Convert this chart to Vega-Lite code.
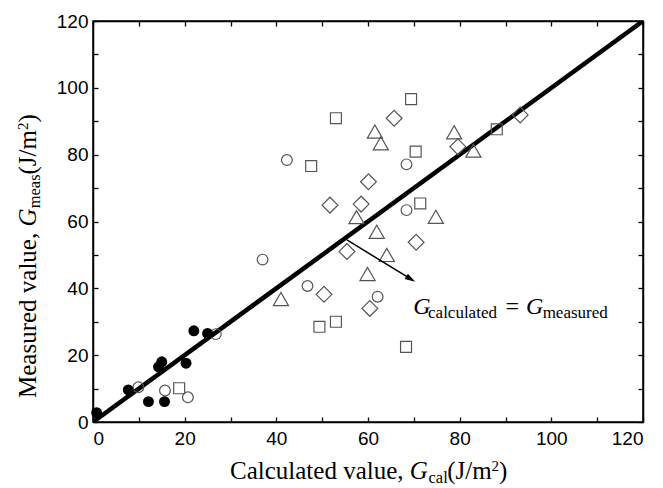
{
  "$schema": "https://vega.github.io/schema/vega-lite/v6.json",
  "width": 550,
  "height": 401,
  "autosize": "none",
  "padding": {"left": 93, "top": 21, "right": 20, "bottom": 66},
  "background": "white",
  "config": {
    "view": {"stroke": "black", "strokeWidth": 1.5},
    "axis": {
      "grid": false,
      "domainColor": "black",
      "domainWidth": 1.5,
      "tickColor": "black",
      "tickWidth": 1.3,
      "tickSize": -5,
      "labelFont": "Liberation Sans",
      "labelFontSize": 19,
      "labelColor": "black",
      "titleFontSize": 0
    }
  },
  "datasets": {
    "points": [
      {"x": 0.8, "y": 2.8, "type": "filled"},
      {"x": 7.7, "y": 9.6, "type": "filled"},
      {"x": 12.1, "y": 6.1, "type": "filled"},
      {"x": 15.6, "y": 6.1, "type": "filled"},
      {"x": 14.3, "y": 16.5, "type": "filled"},
      {"x": 15.0, "y": 18.0, "type": "filled"},
      {"x": 20.3, "y": 17.6, "type": "filled"},
      {"x": 22.0, "y": 27.3, "type": "filled"},
      {"x": 25.0, "y": 26.5, "type": "filled"},
      {"x": 9.9, "y": 10.4, "type": "circle"},
      {"x": 15.7, "y": 9.4, "type": "circle"},
      {"x": 20.7, "y": 7.4, "type": "circle"},
      {"x": 26.8, "y": 26.3, "type": "circle"},
      {"x": 37.0, "y": 48.6, "type": "circle"},
      {"x": 42.3, "y": 78.4, "type": "circle"},
      {"x": 46.8, "y": 40.7, "type": "circle"},
      {"x": 62.1, "y": 37.5, "type": "circle"},
      {"x": 68.4, "y": 77.1, "type": "circle"},
      {"x": 68.4, "y": 63.4, "type": "circle"},
      {"x": 18.8, "y": 10.1, "type": "square"},
      {"x": 47.6, "y": 76.6, "type": "square"},
      {"x": 49.4, "y": 28.5, "type": "square"},
      {"x": 53.0, "y": 30.0, "type": "square"},
      {"x": 53.0, "y": 90.9, "type": "square"},
      {"x": 68.3, "y": 22.5, "type": "square"},
      {"x": 69.4, "y": 96.6, "type": "square"},
      {"x": 70.4, "y": 80.9, "type": "square"},
      {"x": 71.4, "y": 65.4, "type": "square"},
      {"x": 88.1, "y": 87.6, "type": "square"},
      {"x": 50.4, "y": 38.2, "type": "diamond"},
      {"x": 51.7, "y": 64.9, "type": "diamond"},
      {"x": 55.4, "y": 51.0, "type": "diamond"},
      {"x": 58.5, "y": 65.2, "type": "diamond"},
      {"x": 60.1, "y": 71.9, "type": "diamond"},
      {"x": 60.4, "y": 34.0, "type": "diamond"},
      {"x": 65.7, "y": 90.9, "type": "diamond"},
      {"x": 70.5, "y": 53.8, "type": "diamond"},
      {"x": 79.6, "y": 82.4, "type": "diamond"},
      {"x": 93.2, "y": 91.9, "type": "diamond"},
      {"x": 41.0, "y": 36.8, "type": "triangle"},
      {"x": 57.5, "y": 61.3, "type": "triangle"},
      {"x": 59.9, "y": 44.3, "type": "triangle"},
      {"x": 61.5, "y": 86.9, "type": "triangle"},
      {"x": 62.8, "y": 83.4, "type": "triangle"},
      {"x": 61.9, "y": 56.9, "type": "triangle"},
      {"x": 64.1, "y": 50.0, "type": "triangle"},
      {"x": 74.8, "y": 61.4, "type": "triangle"},
      {"x": 78.8, "y": 86.7, "type": "triangle"},
      {"x": 83.0, "y": 81.2, "type": "triangle"}
    ],
    "fit": [{"x": 0, "y": 0}, {"x": 120, "y": 120}],
    "one": [{}]
  },
  "resolve": {"axis": {"x": "independent", "y": "independent"}},
  "layer": [
    {
      "data": {"name": "fit"},
      "mark": {"type": "line", "color": "black", "strokeWidth": 4.5, "clip": true},
      "encoding": {
        "x": {"field": "x", "type": "quantitative", "scale": {"domain": [0, 120], "nice": false},
          "axis": {"orient": "bottom", "values": [0,10,20,30,40,50,60,70,80,90,100,110,120],
            "labelExpr": "datum.value % 20 === 0 ? datum.label : ''", "labelPadding": 12, "title": null}},
        "y": {"field": "y", "type": "quantitative", "scale": {"domain": [0, 120], "nice": false},
          "axis": {"orient": "left", "values": [0,10,20,30,40,50,60,70,80,90,100,110,120],
            "labelExpr": "datum.value % 20 === 0 ? datum.label : ''", "labelPadding": 10, "title": null}}
      }
    },
    {
      "data": {"name": "points"},
      "transform": [{"filter": "datum.type === 'circle'"}],
      "mark": {"type": "point", "shape": "circle", "filled": false, "color": "#555555", "strokeWidth": 1.2, "opacity": 1, "size": 115},
      "encoding": {
        "x": {"field": "x", "type": "quantitative", "axis": null},
        "y": {"field": "y", "type": "quantitative", "axis": null}
      }
    },
    {
      "data": {"name": "points"},
      "transform": [{"filter": "datum.type === 'square'"}],
      "mark": {"type": "point", "shape": "square", "filled": false, "color": "#555555", "strokeWidth": 1.2, "opacity": 1, "size": 120},
      "encoding": {
        "x": {"field": "x", "type": "quantitative", "axis": null},
        "y": {"field": "y", "type": "quantitative", "axis": null}
      }
    },
    {
      "data": {"name": "points"},
      "transform": [{"filter": "datum.type === 'diamond'"}],
      "mark": {"type": "point", "shape": "diamond", "filled": false, "color": "#555555", "strokeWidth": 1.2, "opacity": 1, "size": 250},
      "encoding": {
        "x": {"field": "x", "type": "quantitative", "axis": null},
        "y": {"field": "y", "type": "quantitative", "axis": null}
      }
    },
    {
      "data": {"name": "points"},
      "transform": [{"filter": "datum.type === 'triangle'"}],
      "mark": {"type": "point", "shape": "triangle-up", "filled": false, "color": "#555555", "strokeWidth": 1.2, "opacity": 1, "size": 230},
      "encoding": {
        "x": {"field": "x", "type": "quantitative", "axis": null},
        "y": {"field": "y", "type": "quantitative", "axis": null}
      }
    },
    {
      "data": {"name": "points"},
      "transform": [{"filter": "datum.type === 'filled'"}],
      "mark": {"type": "point", "shape": "circle", "filled": true, "color": "black", "size": 120, "opacity": 1},
      "encoding": {
        "x": {"field": "x", "type": "quantitative",
          "axis": {"orient": "top", "values": [0,10,20,30,40,50,60,70,80,90,100,110,120], "labels": false, "title": null}},
        "y": {"field": "y", "type": "quantitative",
          "axis": {"orient": "right", "values": [0,10,20,30,40,50,60,70,80,90,100,110,120], "labels": false, "title": null}}
      }
    },
    {
      "data": {"name": "one"},
      "mark": {"type": "rule", "color": "black", "strokeWidth": 1.5},
      "encoding": {
        "x": {"datum": 55.4, "type": "quantitative", "axis": null},
        "y": {"datum": 54.5, "type": "quantitative", "axis": null},
        "x2": {"datum": 69.3},
        "y2": {"datum": 42.8}
      }
    },
    {
      "data": {"name": "one"},
      "mark": {"type": "point", "shape": "M-1,-0.6L1,0L-1,0.6Z", "filled": true, "color": "black", "size": 110, "angle": 31.6, "opacity": 1},
      "encoding": {
        "x": {"datum": 69.32, "type": "quantitative", "axis": null},
        "y": {"datum": 42.77, "type": "quantitative", "axis": null}
      }
    },
    {"data": {"name": "one"}, "mark": {"type": "text", "text": "G", "font": "Liberation Serif", "fontStyle": "italic", "fontSize": 24, "align": "left", "baseline": "alphabetic", "color": "black"},
     "encoding": {"x": {"datum": 69.89, "type": "quantitative", "axis": null}, "y": {"datum": 32.32, "type": "quantitative", "axis": null}}},
    {"data": {"name": "one"}, "mark": {"type": "text", "text": "calculated", "font": "Liberation Serif", "fontSize": 17, "align": "left", "baseline": "alphabetic", "color": "black"},
     "encoding": {"x": {"datum": 73.1, "type": "quantitative", "axis": null}, "y": {"datum": 31.12, "type": "quantitative", "axis": null}}},
    {"data": {"name": "one"}, "mark": {"type": "text", "text": "=", "font": "Liberation Serif", "fontSize": 24, "align": "left", "baseline": "alphabetic", "color": "black"},
     "encoding": {"x": {"datum": 90.0, "type": "quantitative", "axis": null}, "y": {"datum": 32.32, "type": "quantitative", "axis": null}}},
    {"data": {"name": "one"}, "mark": {"type": "text", "text": "G", "font": "Liberation Serif", "fontStyle": "italic", "fontSize": 24, "align": "left", "baseline": "alphabetic", "color": "black"},
     "encoding": {"x": {"datum": 94.47, "type": "quantitative", "axis": null}, "y": {"datum": 32.32, "type": "quantitative", "axis": null}}},
    {"data": {"name": "one"}, "mark": {"type": "text", "text": "measured", "font": "Liberation Serif", "fontSize": 17, "align": "left", "baseline": "alphabetic", "color": "black"},
     "encoding": {"x": {"datum": 98.1, "type": "quantitative", "axis": null}, "y": {"datum": 31.12, "type": "quantitative", "axis": null}}},
    {"data": {"name": "one"}, "mark": {"type": "text", "text": "Calculated value, ", "font": "Liberation Serif", "fontSize": 25, "align": "left", "baseline": "alphabetic", "color": "black"},
     "encoding": {"x": {"datum": 29.89, "type": "quantitative", "axis": null}, "y": {"datum": -17.06, "type": "quantitative", "axis": null}}},
    {"data": {"name": "one"}, "mark": {"type": "text", "text": "G", "font": "Liberation Serif", "fontStyle": "italic", "fontSize": 25, "align": "left", "baseline": "alphabetic", "color": "black"},
     "encoding": {"x": {"datum": 69.12, "type": "quantitative", "axis": null}, "y": {"datum": -17.06, "type": "quantitative", "axis": null}}},
    {"data": {"name": "one"}, "mark": {"type": "text", "text": "cal", "font": "Liberation Serif", "fontSize": 16.5, "align": "left", "baseline": "alphabetic", "color": "black"},
     "encoding": {"x": {"datum": 73.2, "type": "quantitative", "axis": null}, "y": {"datum": -18.25, "type": "quantitative", "axis": null}}},
    {"data": {"name": "one"}, "mark": {"type": "text", "text": "(J/m", "font": "Liberation Serif", "fontSize": 25, "align": "left", "baseline": "alphabetic", "color": "black"},
     "encoding": {"x": {"datum": 77.3, "type": "quantitative", "axis": null}, "y": {"datum": -17.06, "type": "quantitative", "axis": null}}},
    {"data": {"name": "one"}, "mark": {"type": "text", "text": "2", "font": "Liberation Serif", "fontSize": 15, "align": "left", "baseline": "alphabetic", "color": "black"},
     "encoding": {"x": {"datum": 86.95, "type": "quantitative", "axis": null}, "y": {"datum": -14.57, "type": "quantitative", "axis": null}}},
    {"data": {"name": "one"}, "mark": {"type": "text", "text": ")", "font": "Liberation Serif", "fontSize": 25, "align": "left", "baseline": "alphabetic", "color": "black"},
     "encoding": {"x": {"datum": 88.58, "type": "quantitative", "axis": null}, "y": {"datum": -17.06, "type": "quantitative", "axis": null}}},
    {"data": {"name": "one"}, "mark": {"type": "text", "text": "Measured value, ", "font": "Liberation Serif", "fontSize": 25, "angle": 270, "align": "left", "baseline": "alphabetic", "color": "black"},
     "encoding": {"x": {"datum": -12.44, "type": "quantitative", "axis": null}, "y": {"datum": 7.18, "type": "quantitative", "axis": null}}},
    {"data": {"name": "one"}, "mark": {"type": "text", "text": "G", "font": "Liberation Serif", "fontStyle": "italic", "fontSize": 25, "angle": 270, "align": "left", "baseline": "alphabetic", "color": "black"},
     "encoding": {"x": {"datum": -12.44, "type": "quantitative", "axis": null}, "y": {"datum": 58.5, "type": "quantitative", "axis": null}}},
    {"data": {"name": "one"}, "mark": {"type": "text", "text": "meas", "font": "Liberation Serif", "fontSize": 16.5, "angle": 270, "align": "left", "baseline": "alphabetic", "color": "black"},
     "encoding": {"x": {"datum": -11.56, "type": "quantitative", "axis": null}, "y": {"datum": 63.95, "type": "quantitative", "axis": null}}},
    {"data": {"name": "one"}, "mark": {"type": "text", "text": "(J/m", "font": "Liberation Serif", "fontSize": 25, "angle": 270, "align": "left", "baseline": "alphabetic", "color": "black"},
     "encoding": {"x": {"datum": -12.44, "type": "quantitative", "axis": null}, "y": {"datum": 74.03, "type": "quantitative", "axis": null}}},
    {"data": {"name": "one"}, "mark": {"type": "text", "text": "2", "font": "Liberation Serif", "fontSize": 15, "angle": 270, "align": "left", "baseline": "alphabetic", "color": "black"},
     "encoding": {"x": {"datum": -14.29, "type": "quantitative", "axis": null}, "y": {"datum": 87.35, "type": "quantitative", "axis": null}}},
    {"data": {"name": "one"}, "mark": {"type": "text", "text": ")", "font": "Liberation Serif", "fontSize": 25, "angle": 270, "align": "left", "baseline": "alphabetic", "color": "black"},
     "encoding": {"x": {"datum": -12.44, "type": "quantitative", "axis": null}, "y": {"datum": 89.59, "type": "quantitative", "axis": null}}}
  ]
}
